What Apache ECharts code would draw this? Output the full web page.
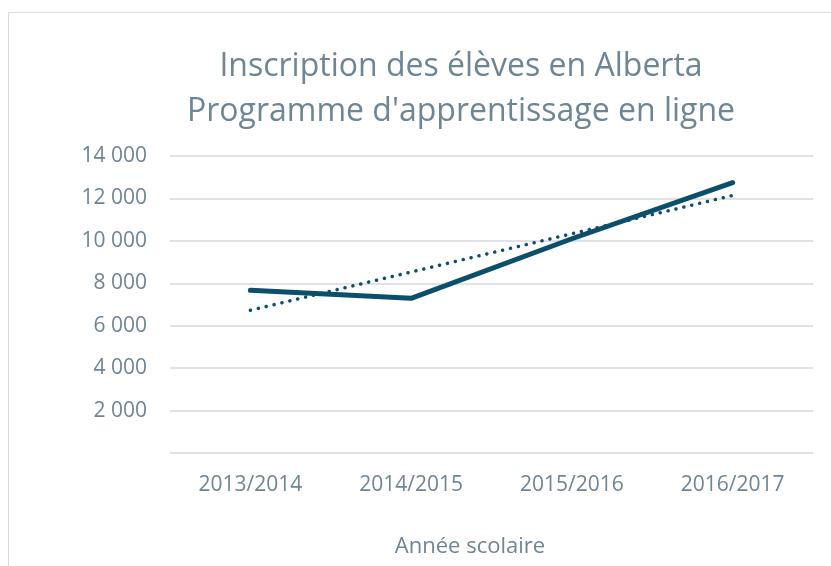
<!DOCTYPE html>
<html>
<head>
<meta charset="utf-8">
<script src="https://cdn.jsdelivr.net/npm/echarts@6/dist/echarts.min.js"></script>
<style>
  html, body { margin: 0; padding: 0; background: #fff; }
  #main { width: 831px; height: 566px; }
</style>
</head>
<body>
<div id="main"></div>
<script>
var annees = ['2013/2014', '2014/2015', '2015/2016', '2016/2017'];
var inscriptions = [7670, 7290, 10100, 12750];
// tendance (extrémités seulement)
var tendance = [6730, null, null, 12140];

var gris = '#6e8596';
var bleu = '#0b4f6c';
var police = 'Open Sans';

var myChart = echarts.init(document.getElementById('main'));
var option = {
    animation: false,
    textStyle: { fontFamily: police },
    graphic: [{
        type: 'rect',
        shape: { x: 8.5, y: 12.5, width: 900, height: 700 },
        style: { fill: 'none', stroke: '#d9dee2', lineWidth: 1 },
        silent: true
    }, {
        // titre sur deux lignes
        type: 'text',
        x: 461, y: 67,
        style: {
            text: 'Inscription des élèves en Alberta',
            fill: gris, font: '32px "Open Sans"',
            align: 'center', verticalAlign: 'middle'
        }
    }, {
        type: 'text',
        x: 461, y: 112,
        style: {
            text: 'Programme d\'apprentissage en ligne',
            fill: gris, font: '32px "Open Sans"',
            align: 'center', verticalAlign: 'middle'
        }
    }, {
        type: 'text',
        x: 470, y: 547,
        style: {
            text: 'Année scolaire',
            fill: gris, font: '22px "Open Sans"',
            align: 'center', verticalAlign: 'middle'
        }
    }],
    grid: { left: 170, right: 18, top: 156, bottom: 113, containLabel: false },
    xAxis: {
        type: 'category',
        data: annees,
        boundaryGap: true,
        axisLine: { show: false },
        axisTick: { show: false },
        axisLabel: { color: gris, fontSize: 21, margin: 22 }
    },
    yAxis: {
        type: 'value',
        min: 0,
        max: 14000,
        interval: 2000,
        axisLine: { show: false },
        axisTick: { show: false },
        splitLine: { lineStyle: { color: '#dfe3e6', width: 2 } },
        axisLabel: {
            color: gris,
            fontSize: 21,
            margin: 23,
            formatter: function (v) {
                if (v === 0) return '';
                return String(v).replace(/\B(?=(\d{3})+(?!\d))/g, ' ');
            }
        }
    },
    series: [{
        name: 'Inscriptions',
        type: 'line',
        data: inscriptions,
        symbol: 'none',
        lineStyle: { color: bleu, width: 5, cap: 'round', join: 'round' },
        z: 3
    }, {
        name: 'Tendance',
        type: 'line',
        data: tendance,
        connectNulls: true,
        symbol: 'none',
        lineStyle: { color: bleu, width: 3.5, type: [0.1, 8], cap: 'round' },
        z: 2
    }]
};
myChart.setOption(option);
</script>
</body>
</html>
